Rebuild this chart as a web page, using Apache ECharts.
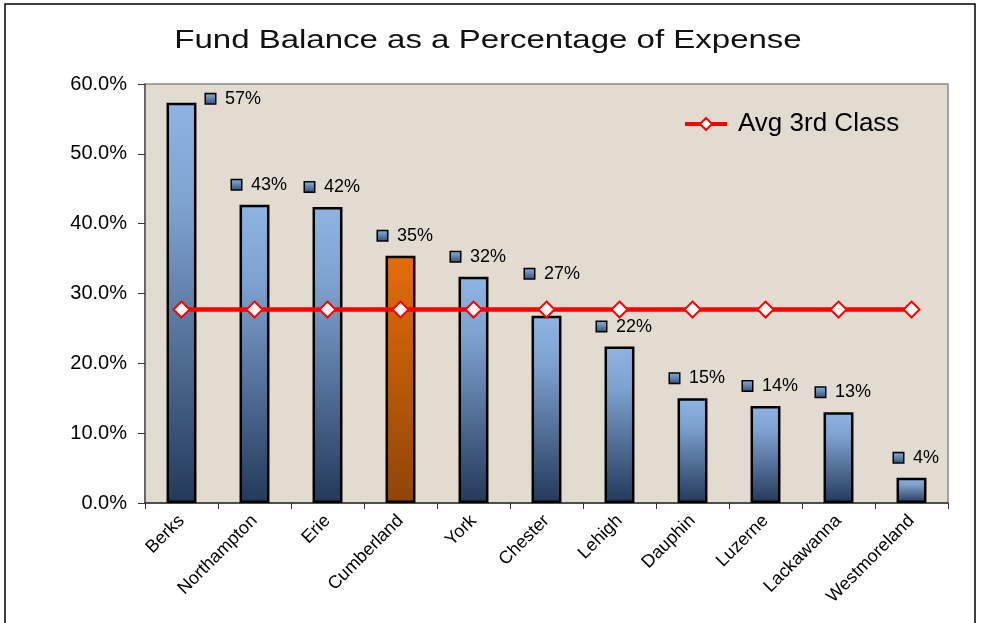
<!DOCTYPE html>
<html>
<head>
<meta charset="utf-8">
<script src="https://cdn.jsdelivr.net/npm/echarts@6/dist/echarts.min.js"></script>
<style>
  html, body { margin: 0; padding: 0; background: #ffffff; }
  #main { width: 984px; height: 623px; }
</style>
</head>
<body>
<div id="main"></div>
<script>
// counties, fund balance as % of expense
const counties = ['Berks', 'Northampton', 'Erie', 'Cumberland', 'York', 'Chester',
  'Lehigh', 'Dauphin', 'Luzerne', 'Lackawanna', 'Westmoreland'];
const fundPct = [57.3, 42.7, 42.4, 35.4, 32.4, 26.8, 22.4, 15.0, 13.9, 13.0, 3.6];
const avgThirdClass = [27.7, 27.7, 27.7, 27.7, 27.7, 27.7, 27.7, 27.7, 27.7, 27.7, 27.7];
const highlight = 'Cumberland';
const titleText = 'Fund Balance as a Percentage of Expense';

const chart = echarts.init(document.getElementById('main'));

const blueFill = new echarts.graphic.LinearGradient(0, 0, 0, 1, [
  { offset: 0, color: '#8db4e3' },
  { offset: 0.25, color: '#7fa3d1' },
  { offset: 1, color: '#23395a' }
]);
const orangeFill = new echarts.graphic.LinearGradient(0, 0, 0, 1, [
  { offset: 0, color: '#e46c0a' },
  { offset: 1, color: '#8f4507' }
]);
const sqFill = new echarts.graphic.LinearGradient(0, 0, 0, 1, [
  { offset: 0, color: '#8db4e3' },
  { offset: 1, color: '#2f4d75' }
]);

const font = '"Liberation Sans", Arial, sans-serif';
const avg = avgThirdClass[0];

// label nudges: top bar sits against the plot top, labels near the avg line get lifted
function labelFor(v) {
  if (v > 55) return { offset: [52, 10] };
  if (Math.abs(v - avg) < 2) return { offset: [6, -28] };
  return {};
}

const option = {
  backgroundColor: '#ffffff',
  animation: false,
  legend: {
    left: 678,
    top: 106,
    itemWidth: 42,
    itemHeight: 15,
    itemGap: 12,
    data: [{ name: 'Avg 3rd Class', lineStyle: { width: 4, color: '#ff0000' } }],
    textStyle: { fontFamily: font, fontSize: 26, color: '#000', padding: [0, 0, 0, 6] }
  },
  grid: {
    left: 145, right: 36, top: 84, bottom: 120,
    show: true, backgroundColor: '#e2dbcf', borderColor: '#8a8a8a', borderWidth: 1.5
  },
  xAxis: {
    type: 'category',
    data: counties,
    axisLine: { lineStyle: { color: '#333', width: 1.5 } },
    axisTick: { show: true, length: 6, lineStyle: { color: '#333' } },
    axisLabel: { rotate: 45, fontFamily: font, fontSize: 18, color: '#000', margin: 15 }
  },
  yAxis: {
    type: 'value',
    min: 0,
    max: 60,
    interval: 10,
    splitLine: { show: false },
    axisLine: { show: true, lineStyle: { color: '#555', width: 1.5 } },
    axisTick: { show: true, length: 7, lineStyle: { color: '#333' } },
    axisLabel: { formatter: v => v.toFixed(1) + '%', fontFamily: font, fontSize: 20, color: '#000', margin: 18 }
  },
  series: [
    {
      name: 'Fund Balance',
      type: 'bar',
      barWidth: '41%',
      data: fundPct.map((v, i) => ({
        value: v,
        itemStyle: { color: counties[i] === highlight ? orangeFill : blueFill },
        label: labelFor(v)
      })),
      itemStyle: { borderColor: '#000', borderWidth: 2.5 },
      label: {
        show: true,
        position: 'top',
        distance: 5,
        offset: [5, -6],
        formatter: p => '{sq|}  ' + Math.round(p.value) + '%',
        fontFamily: font,
        fontSize: 18,
        color: '#000',
        rich: {
          sq: { width: 9, height: 9, backgroundColor: sqFill, borderColor: '#000', borderWidth: 1.5 }
        }
      }
    },
    {
      name: 'Avg 3rd Class',
      type: 'line',
      data: avgThirdClass,
      symbol: 'diamond',
      symbolSize: 16,
      z: 5,
      lineStyle: { color: '#ff0000', width: 4.5 },
      itemStyle: { color: '#ffffff', borderColor: '#ff0000', borderWidth: 2 }
    }
  ],
  graphic: [
    {
      type: 'text',
      x: 488,
      y: 41,
      scaleX: 1.32,
      style: {
        text: titleText,
        font: 'normal 25px ' + font,
        fill: '#111',
        align: 'center',
        verticalAlign: 'middle'
      },
      silent: true
    },
    {
      type: 'rect',
      shape: { x: 5, y: 4, width: 970, height: 640 },
      style: { fill: 'none', stroke: '#000', lineWidth: 1.5 },
      silent: true
    }
  ]
};

chart.setOption(option);
</script>
</body>
</html>
